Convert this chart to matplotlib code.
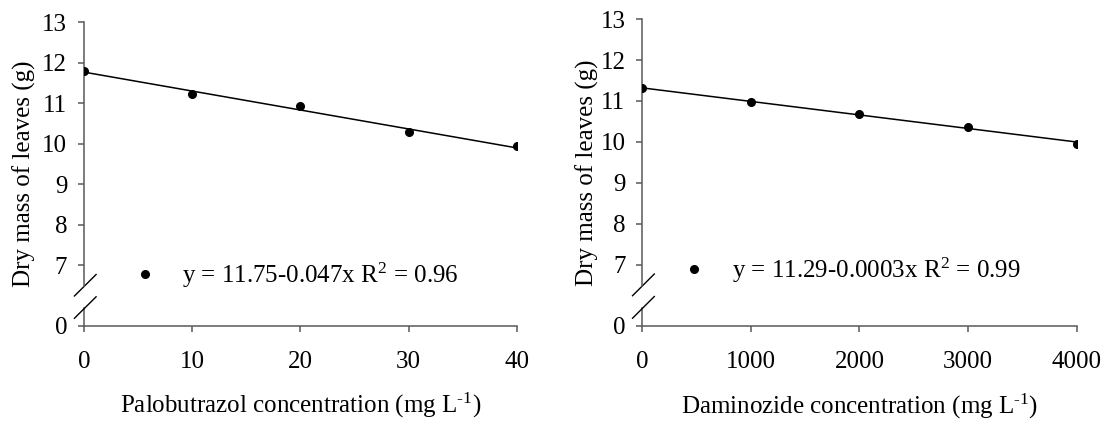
import numpy as np
import matplotlib.pyplot as plt

plt.rcParams['font.family'] = ['Liberation Serif', 'DejaVu Serif']
plt.rcParams['mathtext.fontset'] = 'custom'
plt.rcParams['mathtext.rm'] = 'Liberation Serif'
plt.rcParams['mathtext.it'] = 'Liberation Serif:italic'

# data
pbz_conc = [0, 10, 20, 30, 40]
pbz_mass = [11.80, 11.22, 10.92, 10.28, 9.93]
dmz_conc = [0, 1000, 2000, 3000, 4000]
dmz_mass = [11.31, 10.98, 10.67, 10.37, 9.96]

pbz_eq = r"y = 11.75-0.047x R$^{2}$ = 0.96"
dmz_eq = r"y = 11.29-0.0003x R$^{2}$ = 0.99"
pbz_xlabel = r"Palobutrazol concentration (mg L$^{\text{-1}}$)"
dmz_xlabel = r"Daminozide concentration (mg L$^{\text{-1}}$)"
ylabel = "Dry mass of leaves (g)"
y_ticks = [0, 7, 8, 9, 10, 11, 12, 13]

AXCOL = '#595959'
FS = 18
LOW = 5.5   # where the "0" sits below the break


def brk(v):
    # squeeze everything below 7 into the small bottom segment
    return v if v >= 7 else LOW


def panel(ax, x, y, eq, xlabel, leg_xy, ylab_x):
    b, a = np.polyfit(x, y, 1)
    xl = np.array([x[0], x[-1]])
    ax.plot(xl, a + b * xl, color='k', lw=1.1, zorder=2)
    ax.plot(x, y, 'o', color='k', ms=5.5, label=eq, zorder=3)

    ax.set_xlim(x[0], x[-1])
    ax.set_ylim(LOW, 13)
    ax.set_xticks(x)
    ax.set_yticks([brk(t) for t in y_ticks])
    ax.set_yticklabels([str(t) for t in y_ticks])

    for s in ['top', 'right']:
        ax.spines[s].set_visible(False)
    for s in ['left', 'bottom']:
        ax.spines[s].set_color(AXCOL)
        ax.spines[s].set_linewidth(1.1)
    ax.spines['left'].set_bounds(6.48, 13)
    tr = ax.get_yaxis_transform()
    ax.plot([0, 0], [LOW, 5.94], color=AXCOL, lw=1.1, transform=tr, clip_on=False)
    # the two break slashes
    ax.plot([-0.022, 0.028], [6.24, 6.77], color='k', lw=1, transform=tr, clip_on=False)
    ax.plot([-0.022, 0.028], [5.69, 6.22], color='k', lw=1, transform=tr, clip_on=False)

    ax.tick_params(axis='both', colors=AXCOL, labelcolor='k', labelsize=FS, length=4, width=1.1)
    ax.tick_params(axis='x', pad=14)
    ax.tick_params(axis='y', pad=8)

    ax.set_ylabel(ylabel, fontsize=FS)
    ax.yaxis.set_label_coords(ylab_x, 0.5)
    ax.set_xlabel(xlabel, fontsize=FS)
    ax.xaxis.set_label_coords(0.5, -0.215)

    ax.legend(loc='center left', bbox_to_anchor=leg_xy, frameon=False, borderaxespad=0,
              fontsize=FS, numpoints=1, handlelength=1.8, handletextpad=0.6)


fig = plt.figure(figsize=(11.09, 4.25), dpi=100)
ax1 = fig.add_axes([0.0757, 0.233, 0.3905, 0.715])
ax2 = fig.add_axes([0.579, 0.233, 0.392, 0.722])

panel(ax1, pbz_conc, pbz_mass, pbz_eq, pbz_xlabel, (0.065, 0.167), -0.111)
panel(ax2, dmz_conc, dmz_mass, dmz_eq, dmz_xlabel, (0.0455, 0.181), -0.099)

fig.savefig('out.png', dpi=100)
